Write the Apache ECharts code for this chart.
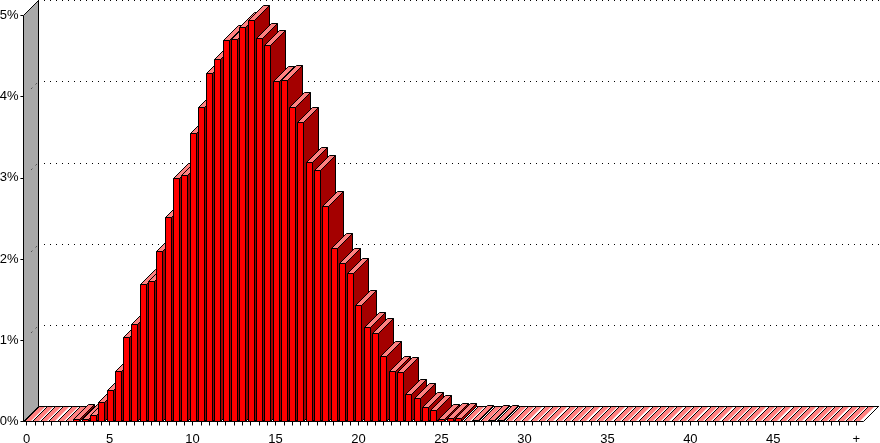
<!DOCTYPE html>
<html><head><meta charset="utf-8">
<style>html,body{margin:0;padding:0;background:#fff}#c{width:880px;height:443px}</style>
<script src="https://cdn.jsdelivr.net/npm/echarts@6/dist/echarts.min.js"></script>
</head><body><div id="c"></div>
<script>
const categories = ['0','0.5','1','1.5','2','2.5','3','3.5','4','4.5','5','5.5','6','6.5','7','7.5','8','8.5','9','9.5',
'10','10.5','11','11.5','12','12.5','13','13.5','14','14.5','15','15.5','16','16.5','17','17.5','18','18.5','19','19.5',
'20','20.5','21','21.5','22','22.5','23','23.5','24','24.5','25','25.5','26','26.5','27','27.5','28','28.5','29','29.5',
'30','30.5','31','31.5','32','32.5','33','33.5','34','34.5','35','35.5','36','36.5','37','37.5','38','38.5','39','39.5',
'40','40.5','41','41.5','42','42.5','43','43.5','44','44.5','45','45.5','46','46.5','47','47.5','48','48.5','49','49.5','+'];
const percentValues = [0,0,0,0,0.005,0.005,0.02,0.02,0.07,0.23,
0.38,0.61,1.03,1.20,1.69,1.73,2.09,2.51,2.99,3.03,
3.55,3.87,4.28,4.46,4.69,4.70,4.85,4.94,4.72,4.63,
4.19,4.20,3.87,3.68,3.19,3.09,2.65,2.13,1.95,1.82,
1.43,1.16,1.08,0.80,0.62,0.60,0.33,0.28,0.17,0.13,
0.02,0.04,0.04,0,0.01,0,0.01,0.01,0,0.005,
0.005,0,0,0,0,0,0,0,0,0,
0,0,0,0,0,0,0,0,0,0,
0,0,0,0,0,0,0,0,0,0,
0,0,0,0,0,0,0,0,0,0,0];
const yMax = 5, yStep = 1;
const DEPTH = 15, LEFT_OFFSET = 2.5, BAR_W = 6;
const FRONT='#ff0000', TOP='#ff8080', SIDE='#a40000', INK='#000';
const FONT='"Liberation Sans", Arial, sans-serif';

const poly = (pts, fill) => ({type:'polygon',shape:{points:pts},style:{fill:fill,stroke:INK,lineWidth:1}});
const snap = v => Math.round(v - 0.5) + 0.5;

function renderWall(params, api){
  const b = api.coord([0,0]), t = api.coord([0,yMax]), r = api.coord([categories.length-1,0]);
  const step = api.size([1,0])[0];
  const xl = snap(b[0]-step/2+1), xr = snap(r[0]+step/2+3), yb = snap(b[1]), yt = snap(t[1]);
  const kids = [
    poly([[xl,yb],[xl+DEPTH,yb-DEPTH],[xl+DEPTH,yt-DEPTH],[xl,yt]],'#a9a9a9'),
    poly([[xl,yb],[xl+DEPTH,yb-DEPTH],[xr+DEPTH,yb-DEPTH],[xr,yb]],'#ffffff')
  ];
  for(let v=yStep;v<yMax;v+=yStep){
    const y = snap(api.coord([0,v])[1]);
    kids.push({type:'line',shape:{x1:xl+8,y1:y-8,x2:xl+DEPTH,y2:y-DEPTH},style:{stroke:INK,lineWidth:1,lineDash:[1,5]}});
  }
  return {type:'group',children:kids};
}
function renderBar(params, api){
  const i = api.value(0), v = api.value(1);
  const top = api.coord([i,v]), base = api.coord([i,0]);
  const x0 = snap(top[0]-LEFT_OFFSET), x1 = x0 + BAR_W;
  const y = snap(top[1]), yb = snap(base[1]), d = DEPTH;
  const kids = [];
  if(yb>y){
    kids.push(poly([[x1,y],[x1,yb],[x1+d,yb-d],[x1+d,y-d]],SIDE));
    kids.push(poly([[x0,y],[x1,y],[x1+d,y-d],[x0+d,y-d]],TOP));
    kids.push(poly([[x0,y],[x1,y],[x1,yb],[x0,yb]],FRONT));
  } else {
    // empty bins: a flat pink strip with only its left edge inked
    kids.push({type:'polygon',shape:{points:[[x0,y],[x1,y],[x1+d,y-d],[x0+d,y-d]]},style:{fill:TOP,stroke:null}});
    kids.push({type:'line',shape:{x1:x0,y1:y,x2:x0+d,y2:y-d},style:{stroke:INK,lineWidth:1}});
    kids.push({type:'line',shape:{x1:x0+d,y1:y-d,x2:x1+d+2,y2:y-d},style:{stroke:INK,lineWidth:1}});
    kids.push({type:'line',shape:{x1:x0,y1:y,x2:x1+2,y2:y},style:{stroke:INK,lineWidth:1}});
  }
  return {type:'group',children:kids};
}

const chart = echarts.init(document.getElementById('c'),null,{renderer:'canvas'});
chart.setOption({
  animation:false,
  backgroundColor:'#fff',
  textStyle:{fontFamily:FONT},
  grid:[
    {left:22.45,width:838,top:15.5,height:406,containLabel:false,outerBoundsMode:'none'},
    {left:38,right:0,top:0.5,height:406,containLabel:false,outerBoundsMode:'none'}
  ],
  xAxis:[
    {type:'category',gridIndex:0,data:categories,
     axisLine:{show:true,lineStyle:{color:INK,width:1}},
     axisTick:{show:true,alignWithLabel:true,interval:0,length:4,lineStyle:{color:INK,width:1}},
     axisLabel:{interval:9,color:INK,fontSize:13,fontFamily:FONT,margin:11,hideOverlap:false,showMinLabel:true,showMaxLabel:true},
     splitLine:{show:false}},
    {type:'category',gridIndex:1,data:categories,show:false}
  ],
  yAxis:[
    {type:'value',gridIndex:0,min:0,max:yMax,interval:yStep,offset:-1,
     axisLine:{show:false},
     axisTick:{show:true,length:3,lineStyle:{color:INK,width:1}},
     axisLabel:{color:INK,fontSize:13,fontFamily:FONT,margin:5,formatter:'{value}%'},
     splitLine:{show:false}},
    {type:'value',gridIndex:1,min:0,max:yMax,interval:yStep,
     axisLine:{show:false},axisTick:{show:false},axisLabel:{show:false},
     splitLine:{show:true,lineStyle:{color:INK,width:1,type:[1,5]}}}
  ],
  series:[
    {type:'custom',name:'wall',xAxisIndex:0,yAxisIndex:0,clip:false,z:1,
     data:[[0,0]],encode:{x:0,y:1},renderItem:renderWall,silent:true},
    {type:'custom',name:'share',xAxisIndex:0,yAxisIndex:0,clip:false,z:2,
     data:percentValues.map((v,i)=>[i,v]),encode:{x:0,y:1},renderItem:renderBar,silent:true}
  ]
});
</script></body></html>
